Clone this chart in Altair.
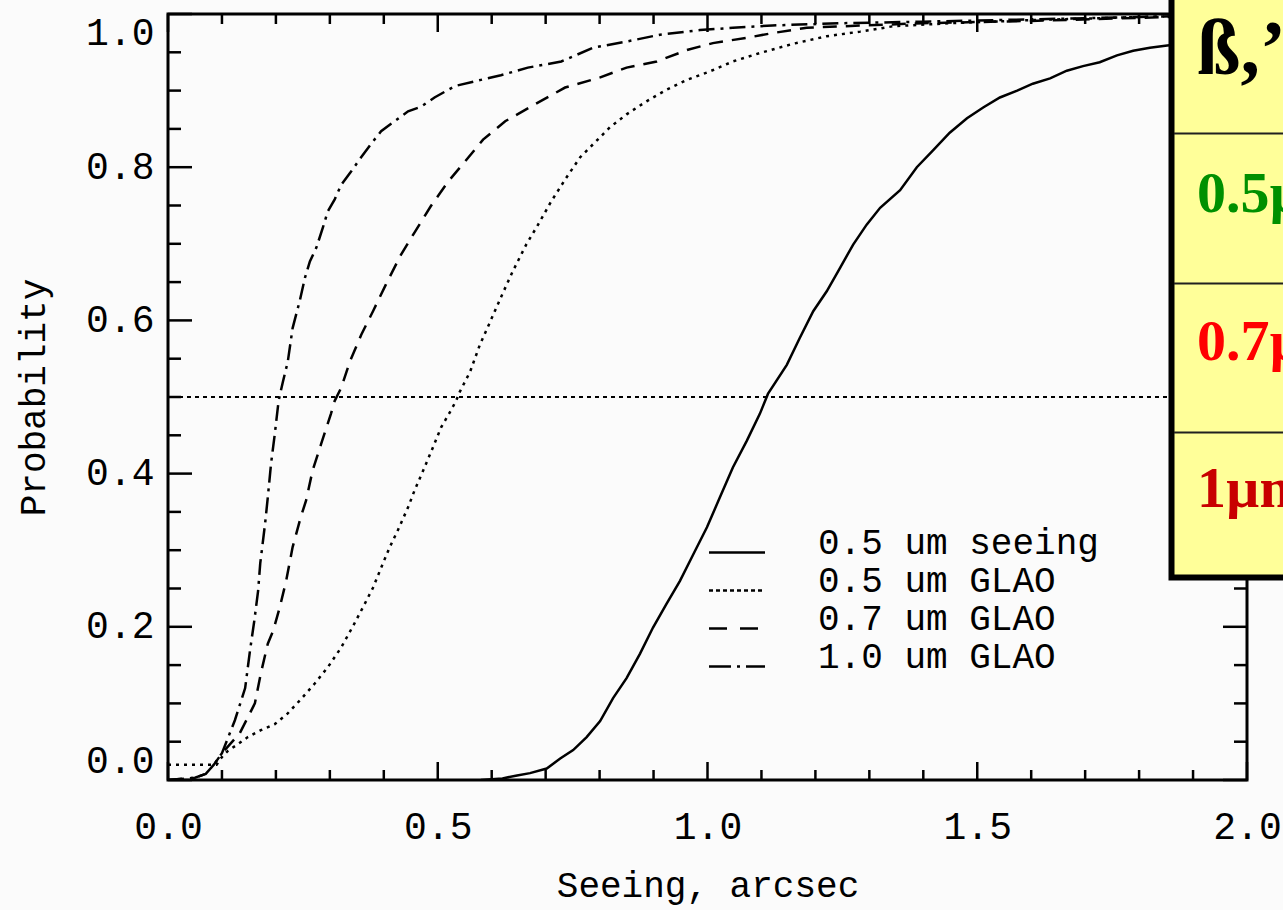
import altair as alt
import pandas as pd

# ---------------- data ----------------
s10_x = [0.0, 0.05, 0.07, 0.085, 0.10, 0.124, 0.143, 0.152, 0.16, 0.167, 0.171, 0.18, 0.185, 0.191,
         0.198, 0.205, 0.213, 0.222, 0.231, 0.244, 0.254, 0.263, 0.275, 0.287, 0.296, 0.309, 0.321,
         0.339, 0.358, 0.376, 0.395, 0.42, 0.445, 0.469, 0.494, 0.532, 0.58, 0.617, 0.667, 0.729,
         0.788, 0.85, 0.912, 0.986, 1.047, 1.12, 1.25, 1.4, 1.6, 1.8, 2.0]
s10_y = [0.0, 0.003, 0.008, 0.02, 0.035, 0.078, 0.12, 0.169, 0.208, 0.247, 0.283, 0.335, 0.369, 0.413,
         0.452, 0.495, 0.52, 0.546, 0.59, 0.625, 0.656, 0.677, 0.695, 0.721, 0.742, 0.758, 0.777,
         0.794, 0.813, 0.83, 0.847, 0.86, 0.873, 0.879, 0.891, 0.906, 0.914, 0.92, 0.93, 0.938,
         0.956, 0.964, 0.973, 0.979, 0.982, 0.985, 0.988, 0.99, 0.993, 0.996, 1.0]

s07_x = [0.0, 0.05, 0.07, 0.085, 0.10, 0.133, 0.161, 0.172, 0.185, 0.195, 0.207, 0.219, 0.231, 0.246,
         0.256, 0.268, 0.284, 0.302, 0.309, 0.321, 0.337, 0.358, 0.38, 0.404, 0.432, 0.458, 0.487,
         0.519, 0.55, 0.584, 0.625, 0.68, 0.736, 0.8, 0.85, 0.906, 0.962, 1.01, 1.073, 1.12, 1.184,
         1.25, 1.4, 1.6, 1.8, 2.0]
s07_y = [0.0, 0.003, 0.008, 0.02, 0.035, 0.061, 0.1, 0.139, 0.178, 0.195, 0.225, 0.26, 0.304, 0.343,
         0.365, 0.404, 0.439, 0.478, 0.495, 0.512, 0.546, 0.581, 0.612, 0.647, 0.686, 0.716, 0.749,
         0.781, 0.807, 0.836, 0.86, 0.882, 0.904, 0.917, 0.93, 0.938, 0.953, 0.962, 0.969, 0.975, 0.982,
         0.984, 0.988, 0.991, 0.995, 0.999]

s05g_x = [0.0, 0.09, 0.1, 0.111, 0.13, 0.148, 0.172, 0.198, 0.222, 0.247, 0.272, 0.296, 0.321, 0.343,
          0.361, 0.38, 0.395, 0.411, 0.426, 0.445, 0.457, 0.473, 0.491, 0.506, 0.524, 0.534, 0.541,
          0.56, 0.578, 0.597, 0.617, 0.639, 0.664, 0.686, 0.71, 0.738, 0.764, 0.788, 0.819, 0.85,
          0.887, 0.924, 0.962, 1.004, 1.047, 1.097, 1.158, 1.221, 1.283, 1.344, 1.45, 1.6, 1.8, 2.0]
s05g_y = [0.02, 0.02, 0.03, 0.038, 0.047, 0.056, 0.065, 0.073, 0.087, 0.106, 0.126, 0.147, 0.173, 0.201,
          0.225, 0.251, 0.277, 0.304, 0.326, 0.356, 0.378, 0.404, 0.434, 0.46, 0.482, 0.495, 0.507,
          0.533, 0.568, 0.598, 0.63, 0.664, 0.699, 0.725, 0.755, 0.786, 0.813, 0.83, 0.852, 0.869,
          0.886, 0.901, 0.914, 0.925, 0.938, 0.949, 0.961, 0.971, 0.977, 0.984, 0.988, 0.992, 0.996, 0.999]

s05s_x = [0.58, 0.62, 0.647, 0.671, 0.702, 0.727, 0.751, 0.776, 0.801, 0.825, 0.85, 0.875, 0.899, 0.924,
          0.949, 0.974, 0.999, 1.023, 1.047, 1.073, 1.097, 1.112, 1.147, 1.171, 1.196, 1.221, 1.246,
          1.27, 1.295, 1.32, 1.357, 1.388, 1.418, 1.449, 1.481, 1.511, 1.542, 1.574, 1.603, 1.635,
          1.666, 1.696, 1.727, 1.759, 1.789, 1.82, 1.852, 1.9, 1.95, 2.0]
s05s_y = [0.0, 0.002, 0.006, 0.009, 0.015, 0.028, 0.039, 0.056, 0.077, 0.107, 0.133, 0.165, 0.199, 0.23,
          0.26, 0.295, 0.33, 0.369, 0.408, 0.443, 0.478, 0.504, 0.542, 0.577, 0.612, 0.638, 0.669,
          0.699, 0.725, 0.747, 0.77, 0.8, 0.822, 0.845, 0.864, 0.878, 0.891, 0.9, 0.909, 0.916,
          0.926, 0.932, 0.937, 0.946, 0.952, 0.956, 0.959, 0.962, 0.965, 0.967]

legend_labels = ["0.5 um seeing", "0.5 um GLAO", "0.7 um GLAO", "1.0 um GLAO"]

x_major = [0.0, 0.5, 1.0, 1.5, 2.0]
x_minor = [0.1, 0.2, 0.3, 0.4, 0.6, 0.7, 0.8, 0.9, 1.1, 1.2, 1.3, 1.4, 1.6, 1.7, 1.8, 1.9]
y_major = [0.0, 0.2, 0.4, 0.6, 0.8, 1.0]
y_minor = [0.05, 0.1, 0.15, 0.25, 0.3, 0.35, 0.45, 0.5, 0.55, 0.65, 0.7, 0.75, 0.85, 0.9, 0.95]

table_rows = ["ß,’’", "0.5µm", "0.7µm", "1µm"]
table_colors = ["#000000", "#009000", "#ff0000", "#c80000"]

# ---------------- layout ----------------
W, H = 1079, 766
MONO = "Liberation Mono"
SERIF = "Liberation Serif"

xsc = alt.Scale(domain=[0, 2], nice=False, zero=False)
ysc = alt.Scale(domain=[0, 1], nice=False, zero=False)

xax = alt.Axis(values=x_major, format=".1f", ticks=False, domain=False, grid=False,
               labelFont=MONO, labelFontSize=38, labelColor="black", labelPadding=28,
               labelFlush=False, labelOverlap=False,
               title="Seeing, arcsec", titleFont=MONO, titleFontSize=36, titleFontWeight="normal",
               titleColor="black", titleX=W / 2, titleY=116, titleBaseline="alphabetic")
yax = alt.Axis(values=y_major, format=".1f", ticks=False, domain=False, grid=False,
               labelFont=MONO, labelFontSize=38, labelColor="black", labelPadding=14,
               labelFlush=True, labelFlushOffset=0, labelOverlap=False,
               title="Probability", titleFont=MONO, titleFontSize=36, titleFontWeight="normal",
               titleColor="black", titleAngle=270, titleX=-124, titleY=H / 2,
               titleBaseline="alphabetic")


def X(f):
    return alt.X(f, type="quantitative", scale=xsc, axis=xax)


def Y(f):
    return alt.Y(f, type="quantitative", scale=ysc, axis=yax)


def curve(xs, ys, dash=None):
    df = pd.DataFrame({"x": xs, "y": ys})
    kw = dict(color="black", strokeWidth=2.5, clip=True)
    if dash:
        kw["strokeDash"] = dash
    return alt.Chart(df).mark_line(**kw).encode(x=X("x"), y=Y("y"), order="x:Q")


dashes = [None, [3, 5], [14, 9], [16, 6, 3, 6]]

layers = [
    curve(s05s_x, s05s_y, dashes[0]),
    curve(s05g_x, s05g_y, dashes[1]),
    curve(s07_x, s07_y, dashes[2]),
    curve(s10_x, s10_y, dashes[3]),
]

# horizontal 50% line
layers.append(alt.Chart(pd.DataFrame({"y": [0.5]})).mark_rule(
    color="black", strokeWidth=2, strokeDash=[4, 4]).encode(y=Y("y")))


# inward ticks on all four sides
def xticks(vals, length):
    df = pd.DataFrame({"v": vals})
    base = alt.Chart(df).mark_rule(color="black", strokeWidth=2.5)
    return [base.encode(x=X("v"), y=alt.value(H), y2=alt.value(H - length)),
            base.encode(x=X("v"), y=alt.value(0), y2=alt.value(length))]


def yticks(vals, length):
    df = pd.DataFrame({"v": vals})
    base = alt.Chart(df).mark_rule(color="black", strokeWidth=2.5)
    return [base.encode(y=Y("v"), x=alt.value(0), x2=alt.value(length)),
            base.encode(y=Y("v"), x=alt.value(W), x2=alt.value(W - length))]


layers += xticks(x_major, 18) + xticks(x_minor, 10) + yticks(y_major, 24) + yticks(y_minor, 13)

# in-plot legend
dummy = pd.DataFrame({"a": [0]})
legend_dash = [None, [4, 3], [18, 13], [22, 6, 3, 6]]
for i, (lab, d) in enumerate(zip(legend_labels, legend_dash)):
    yb = 539.5 + 38 * i
    kw = dict(color="black", strokeWidth=2.5)
    if d:
        kw["strokeDash"] = d
    layers.append(alt.Chart(dummy).mark_rule(**kw).encode(
        x=alt.value(541), x2=alt.value(597), y=alt.value(yb - 1)))
    layers.append(alt.Chart(dummy).mark_text(
        text=lab, align="left", baseline="alphabetic", font=MONO, fontSize=36, color="black"
    ).encode(x=alt.value(650), y=alt.value(yb)))

# yellow table overlay (cut by the right edge)
layers.append(alt.Chart(dummy).mark_rect(fill="#ffff99", stroke="black", strokeWidth=6).encode(
    x=alt.value(1003.5), x2=alt.value(1250), y=alt.value(-40), y2=alt.value(563.5)))
for ys in [119.5, 269.5, 418.5]:
    layers.append(alt.Chart(dummy).mark_rule(color="#202020", strokeWidth=2).encode(
        x=alt.value(1006), x2=alt.value(1250), y=alt.value(ys)))
row_base = [59.5, 197.5, 345.5, 492.5]
row_size = [78, 58, 58, 58]
for txt, col, yb, fs in zip(table_rows, table_colors, row_base, row_size):
    layers.append(alt.Chart(dummy).mark_text(
        text=txt, align="left", baseline="alphabetic", font=SERIF, fontWeight="bold",
        fontSize=fs, color=col).encode(x=alt.value(1029), y=alt.value(yb)))

chart = alt.layer(*layers).properties(
    width=W, height=H,
    autosize=alt.AutoSizeParams(type="none"),
    padding={"left": 168, "top": 14, "right": 36, "bottom": 130},
    background="#fbfbfb",
).configure_view(stroke="black", strokeWidth=3)

chart.save("out.html", embed_options={"renderer": "svg", "actions": False})
